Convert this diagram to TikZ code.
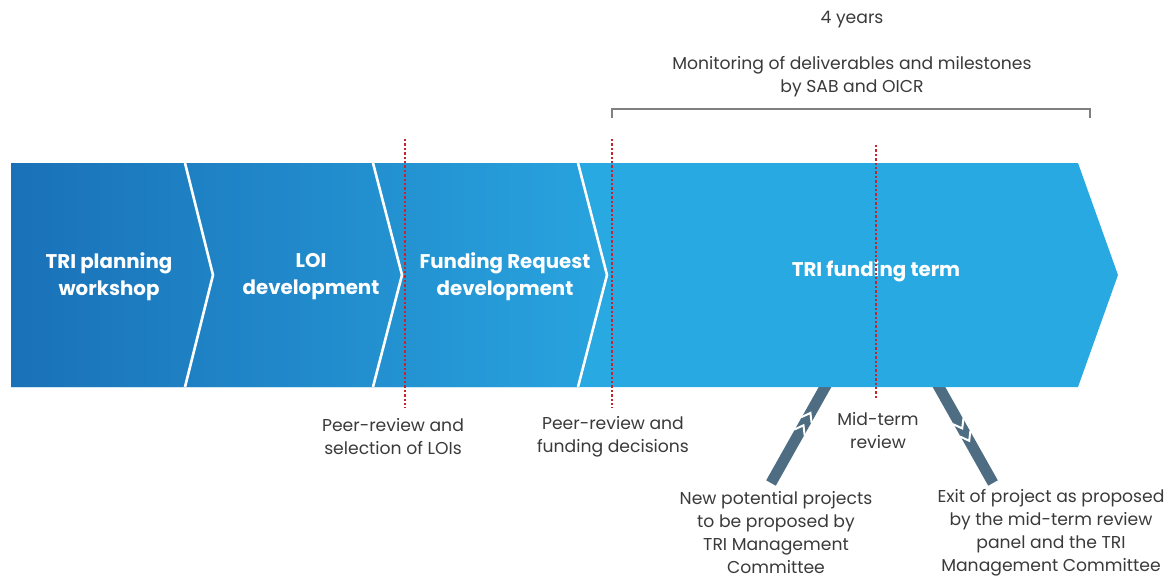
\documentclass[tikz,border=0pt]{standalone}
\usepackage{fontspec}
\setmainfont{Poppins}
\usetikzlibrary{calc}
\definecolor{bandl}{HTML}{1A71B8}
\definecolor{bandr}{HTML}{28A4DF}
\definecolor{bandc}{HTML}{29A9E1}
\definecolor{milered}{HTML}{C4262E}
\definecolor{barc}{HTML}{4E6D82}
\definecolor{txt}{HTML}{3A3A3A}
\tikzset{ lbl/.style={text=white,font=\bfseries\fontsize{19.8}{27}\selectfont,align=center},
  note/.style={text=txt,font=\fontsize{17.2}{23}\selectfont,align=center},
  mile/.style={milered,dotted,line width=2.4pt},
  bar/.style={barc,line width=11pt},
  chev/.style={white,line width=2pt}}

\begin{document}
\begin{tikzpicture}[x=1pt,y=-1pt]
  \useasboundingbox (0,0) rectangle (1168,578);
  % diagonal bars below the band
  \coordinate (lt) at (829,380);
  \coordinate (lb) at (771,483);
  \coordinate (rt) at (935,380);
  \coordinate (rb) at (993,483);
  \draw[bar] (lt) -- (lb);
  \draw[bar] (rt) -- (rb);
  % band
  \fill[bandc] (11,163) -- (1078,163) -- (1118,275) -- (1078,387) -- (11,387) -- cycle;
  \shade[left color=bandl,right color=bandr] (11,163) -- (580,163) -- (609,275) -- (580,387) -- (11,387) -- cycle;
  \draw[white,line width=2.6pt] (185,163) -- (213,275) -- (185,387);
  \draw[white,line width=2.6pt] (373,163) -- (402,275) -- (373,387);
  \draw[white,line width=2.6pt] (578,163) -- (607,275) -- (578,387);
  \node[lbl] (plan) at (109,277) {TRI planning\\workshop};
  \node[lbl] (loi) at (311,277) {LOI\\development};
  \node[lbl] (req) at (505,277) {Funding Request\\development};
  \node[lbl] (term) at (876,271) {TRI funding term};
  % milestones
  \coordinate (m1a) at (405,139);
  \coordinate (m1b) at (405,408);
  \coordinate (m2a) at (612,139);
  \coordinate (m2b) at (612,408);
  \coordinate (m3a) at (876,145);
  \coordinate (m3b) at (876,399);
  \draw[mile] (m1a) -- (m1b);
  \draw[mile] (m2a) -- (m2b);
  \draw[mile] (m3a) -- (m3b);
  % chevrons on bars
  \coordinate (c1) at ($(lb)!0.68!(lt)$);
  \coordinate (c1b) at ($(lb)!0.61!(lt)$);
  \coordinate (c2) at ($(lb)!0.56!(lt)$);
  \coordinate (c2b) at ($(lb)!0.49!(lt)$);
  \draw[chev] ($(c1b)!6pt!90:(lt)$) -- (c1) -- ($(c1b)!6pt!-90:(lt)$);
  \draw[chev] ($(c2b)!6pt!90:(lt)$) -- (c2) -- ($(c2b)!6pt!-90:(lt)$);
  \coordinate (c3) at ($(rt)!0.47!(rb)$);
  \coordinate (c3b) at ($(rt)!0.40!(rb)$);
  \coordinate (c4) at ($(rt)!0.59!(rb)$);
  \coordinate (c4b) at ($(rt)!0.52!(rb)$);
  \draw[chev] ($(c3b)!6pt!90:(rb)$) -- (c3) -- ($(c3b)!6pt!-90:(rb)$);
  \draw[chev] ($(c4b)!6pt!90:(rb)$) -- (c4) -- ($(c4b)!6pt!-90:(rb)$);
  % bracket and top notes
  \coordinate (bl) at (612,118);
  \coordinate (br) at (1090,118);
  \draw[gray,line width=1.3pt] (bl) -- ++(0,-9) -| (br);
  \node[note] (yrs) at (852,20) {4 years};
  \node[note] (mon) at (852,77) {Monitoring of deliverables and milestones\\by SAB and OICR};
  % notes below
  \node[note] (sel) at (393,437) {Peer-review and\\selection of LOIs};
  \node[note] (dec) at (613,437) {Peer-review and\\funding decisions};
  \node[note] (mid) at (878,431) {Mid-term\\review};
  \node[note] (new) at (776,533) {New potential projects\\to be proposed by\\TRI Management\\Committee};
  \node[note] (exit) at (1051,533) {Exit of project as proposed\\by the mid-term review\\panel and the TRI\\Management Committee};
\end{tikzpicture}
\end{document}
